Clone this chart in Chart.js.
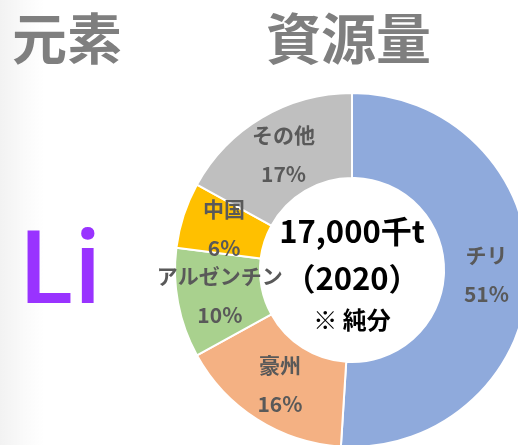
<!DOCTYPE html>
<html>
<head>
<meta charset="utf-8">
<script src="https://cdn.jsdelivr.net/npm/chart.js@4"></script>
<style>
    html, body { margin: 0; padding: 0; }
    body {
        width: 518px; height: 445px; overflow: hidden; position: relative;
        background: linear-gradient(to right, rgba(0,0,0,0.05) 0px, rgba(0,0,0,0.02) 25px, rgba(0,0,0,0) 45px), #fff;
        font-family: "Noto Sans CJK JP", sans-serif;
    }
    .head { position: absolute; top: 2px; font-size: 55px; font-weight: bold; color: #7f7f7f; line-height: 66px; }
    #elem { left: 12px; }
    #res { left: 266px; }
    #sym { position: absolute; left: 18px; top: 194px; font-family: "Open Sans", sans-serif; font-weight: 600; font-size: 102px; color: #9933ff; line-height: 140px; }
    #pie { position: absolute; left: 0; top: 0; }
</style>
</head>
<body>
<div class="head" id="elem">元素</div>
<div class="head" id="res">資源量</div>
<div id="sym">Li</div>
<canvas id="pie" width="560" height="480"></canvas>
<script>
// Resource share by country, 2020
const countries = ['チリ', '豪州', 'アルゼンチン', '中国', 'その他'];
const shares = [51, 16, 10, 6, 17];
const sliceColors = ['#8faadc', '#f4b183', '#a9d18e', '#ffc000', '#bfbfbf'];
const centerLines = ['17,000千t', '（2020）', '※ 純分'];

const sliceLabels = {
    id: 'sliceLabels',
    afterDatasetsDraw(chart) {
        const ctx = chart.ctx;
        const arcs = chart.getDatasetMeta(0).data;
        ctx.save();
        ctx.fillStyle = '#595959';
        ctx.font = 'bold 21px "Noto Sans CJK JP"';
        ctx.textAlign = 'center';
        ctx.textBaseline = 'middle';
        arcs.forEach((arc, i) => {
            const p = arc.getCenterPoint();
            ctx.fillText(countries[i], p.x, p.y - 19);
            ctx.fillText(shares[i] + '%', p.x, p.y + 20);
        });

        // text in the hole
        const cx = (chart.chartArea.left + chart.chartArea.right) / 2;
        const cy = (chart.chartArea.top + chart.chartArea.bottom) / 2;
        ctx.fillStyle = '#000';
        ctx.font = 'bold 31px "Noto Sans CJK JP"';
        ctx.fillText(centerLines[0], cx, cy - 39);
        ctx.fillText(centerLines[1], cx, cy + 8);
        ctx.font = 'bold 24px "Noto Sans CJK JP"';
        ctx.fillText(centerLines[2], cx, cy + 50);
        ctx.restore();
    }
};

new Chart(document.getElementById('pie'), {
    type: 'doughnut',
    data: {
        labels: countries,
        datasets: [{
            data: shares,
            backgroundColor: sliceColors,
            borderColor: '#ffffff',
            borderWidth: 2
        }]
    },
    options: {
        responsive: false,
        animation: false,
        cutout: '52%',
        layout: { padding: { left: 174, top: 92, right: 30, bottom: 32 } },
        plugins: {
            legend: { display: false },
            tooltip: { enabled: false }
        }
    },
    plugins: [sliceLabels]
});
</script>
</body>
</html>
